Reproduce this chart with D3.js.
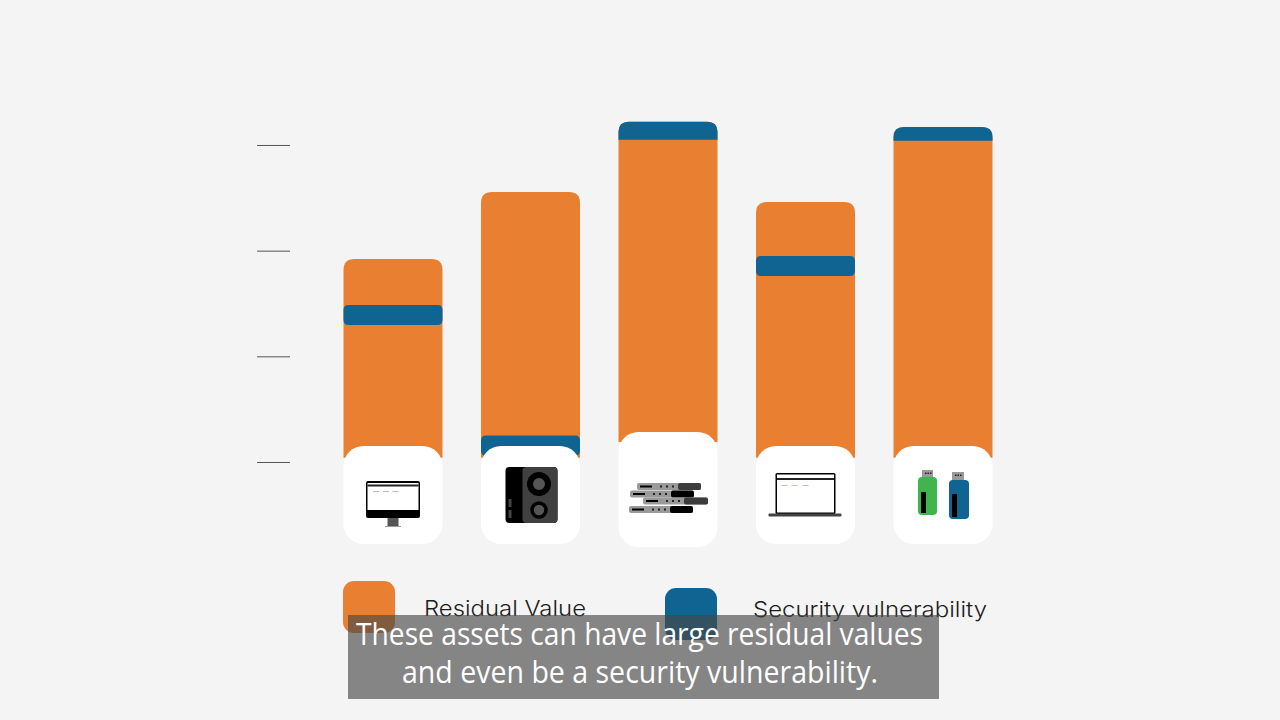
<!DOCTYPE html>
<html><head><meta charset="utf-8">
<script src="https://cdn.jsdelivr.net/npm/d3@7"></script>
<style>html,body{margin:0;padding:0;background:#f4f4f4}svg{display:block}</style>
</head><body><svg id="c" width="1280" height="720"></svg>
<script>
const categories = ["Desktop", "Storage", "Servers", "Laptop", "USB drives"];
const residualTop = [2.92, 3.555, 4.22, 3.46, 4.17];
const securityTop = [2.486, 1.25, 4.22, 2.95, 4.17];
const securityBottom = [2.297, 1.06, 4.05, 2.76, 4.04];
const barBase = [1.04, 1.04, 1.19, 1.04, 1.04];
const tickValues = [1, 2, 3, 4];
const legendLabels = ["Residual Value", "Security vulnerability"];
const captionLines = ["These assets can have large residual values", "and even be a security vulnerability."];

const ORANGE = "#e98031", BLUE = "#0f6491";
const svg = d3.select("#c");
svg.append("rect").attr("width",1280).attr("height",720).attr("fill","#f4f4f4");

const x = d3.scaleBand().domain(categories).range([343.5,992.5]).paddingInner(0.28).paddingOuter(0);
const y = d3.scaleLinear().domain([0,5]).range([567.67,39.3]);
const bw = x.bandwidth();

// axis: bare tick dashes only
const axis = d3.axisLeft(y).tickValues(tickValues).tickSize(33).tickFormat("");
const ag = svg.append("g").attr("transform","translate(290,0)").call(axis);
ag.select(".domain").remove();
ag.selectAll(".tick line").attr("stroke","#555").attr("stroke-width",1);

function topRounded(x0,y0,w,h,r){
  return `M${x0},${y0+h}V${y0+r}Q${x0},${y0} ${x0+r},${y0}H${x0+w-r}Q${x0+w},${y0} ${x0+w},${y0+r}V${y0+h}Z`;
}
function roundRect(x0,y0,w,h,r){
  return `M${x0+r},${y0}H${x0+w-r}Q${x0+w},${y0} ${x0+w},${y0+r}V${y0+h-r}Q${x0+w},${y0+h} ${x0+w-r},${y0+h}H${x0+r}Q${x0},${y0+h} ${x0},${y0+h-r}V${y0+r}Q${x0},${y0} ${x0+r},${y0}Z`;
}
// residual bars
svg.append("g").selectAll("path").data(categories).join("path")
  .attr("fill",ORANGE)
  .attr("d",(c,i)=>topRounded(x(c),y(residualTop[i]),bw,y(barBase[i])-y(residualTop[i]),11));
// security bands
svg.append("g").selectAll("path").data(categories).join("path")
  .attr("fill",BLUE)
  .attr("d",(c,i)=>{
    const t=y(securityTop[i]), b=y(securityBottom[i]);
    if(securityTop[i]===residualTop[i]) return topRounded(x(c),t,bw,b-t,10);
    return roundRect(x(c),t,bw,b-t,5);
  });

// icon cards
const cardTop=[446,446,432,446,446], cardBottom=[544,544,547,544,544];
const cards = svg.append("g").selectAll("g").data(categories).join("g")
  .attr("transform",c=>`translate(${x(c)+bw/2},0)`);
cards.append("rect")
  .attr("x",-bw/2).attr("width",bw)
  .attr("y",(c,i)=>cardTop[i]).attr("height",(c,i)=>cardBottom[i]-cardTop[i])
  .attr("rx",20).attr("fill","#ffffff");

function r(g,x0,y0,w,h,fill,rx){return g.append("rect").attr("x",x0).attr("y",y0).attr("width",w).attr("height",h).attr("fill",fill).attr("rx",rx||0);}

// desktop
(function(g){
  r(g,-27,481,54,37,"#000",2);
  r(g,-25.5,483,51,27,"#fff");
  r(g,-25.5,484.5,51,2,"#222");
  [-20,-10,-0.5].forEach(d=>r(g,d,491,6,1,"#bbb"));
  r(g,-5.5,518,11,8,"#555");
  r(g,-8,526,16,1,"#999");
})(cards.filter((d,i)=>i===0));
// storage unit
(function(g){
  r(g,-25,467,52,56,"#000",4);
  r(g,-8,467,35,56,"#404040",4);
  g.append("circle").attr("cx",8.5).attr("cy",484).attr("r",9).attr("fill","#555").attr("stroke","#000").attr("stroke-width",6);
  g.append("circle").attr("cx",8.5).attr("cy",510).attr("r",7).attr("fill","#555").attr("stroke","#000").attr("stroke-width",3.5);
  r(g,-22,499,3,8,"#444"); r(g,-22,510,3,8,"#444");
})(cards.filter((d,i)=>i===1));
// servers
(function(g){
  const rows=[[-31,483,64,23,"#3c3c3c"],[-38,490.5,64,23,"#000"],[-25,497.5,65,24,"#3c3c3c"],[-39,506,64,23,"#000"]];
  rows.forEach(([a,yy,w,lw,dark])=>{
    r(g,a,yy,w,7,"#9a9a9a",2);
    r(g,a+w-lw,yy,lw,7,dark,2);
    r(g,a+3,yy+2.5,12,2,"#000");
    [23,29,35].forEach(d=>r(g,a+d,yy+2.5,2,2,"#222"));
  });
})(cards.filter((d,i)=>i===2));
// laptop
(function(g){
  r(g,-30,473,60,41,"#000",1.5);
  r(g,-28.5,474.5,57,38,"#fff");
  r(g,-28.5,478,57,2,"#222");
  [-24,-14,-3].forEach((d,k)=>r(g,d,485,6,1,k===1?"#e9b9a0":"#bbb"));
  r(g,-37,513.5,73,3,"#444",1);
})(cards.filter((d,i)=>i===3));
// usb sticks
(function(g){
  r(g,-21,470,11,7,"#999");
  [-18,-15.5,-13].forEach(d=>r(g,d,472.5,1.5,1.5,"#222"));
  r(g,-25,477,19,38,"#3fb54d",4);
  r(g,-22,492,5,21,"#000");
  r(g,9,472,12,8,"#999");
  [12,14.5,17].forEach(d=>r(g,d,474.5,1.5,1.5,"#222"));
  r(g,6,480,20,39,"#0f6491",4);
  r(g,9,494,5,23,"#000");
})(cards.filter((d,i)=>i===4));

// legend
r(svg,343,581,52,52,ORANGE,11);
r(svg,665,588,52,52,BLUE,11);
svg.append("g").selectAll("text").data(legendLabels).join("text")
  .attr("x",(d,i)=>[424,753][i]).attr("y",(d,i)=>[616,617][i])
  .attr("textLength",(d,i)=>[162,234][i]).attr("lengthAdjust","spacingAndGlyphs")
  .attr("font-family","Inter, sans-serif").attr("font-weight",300).attr("font-size",22).attr("fill","#1c1c1c")
  .text(d=>d);

// caption box
r(svg,348,615,591,84,"rgba(70,70,70,0.64)");
svg.append("g").selectAll("text").data(captionLines).join("text")
  .attr("x",(d,i)=>[356,402][i]).attr("y",(d,i)=>[645,683][i])
  .attr("textLength",(d,i)=>[567,476][i]).attr("lengthAdjust","spacingAndGlyphs")
  .attr("font-family","'Open Sans', sans-serif").attr("font-size",31).attr("fill","#fff")
  .text(d=>d);
</script></body></html>
